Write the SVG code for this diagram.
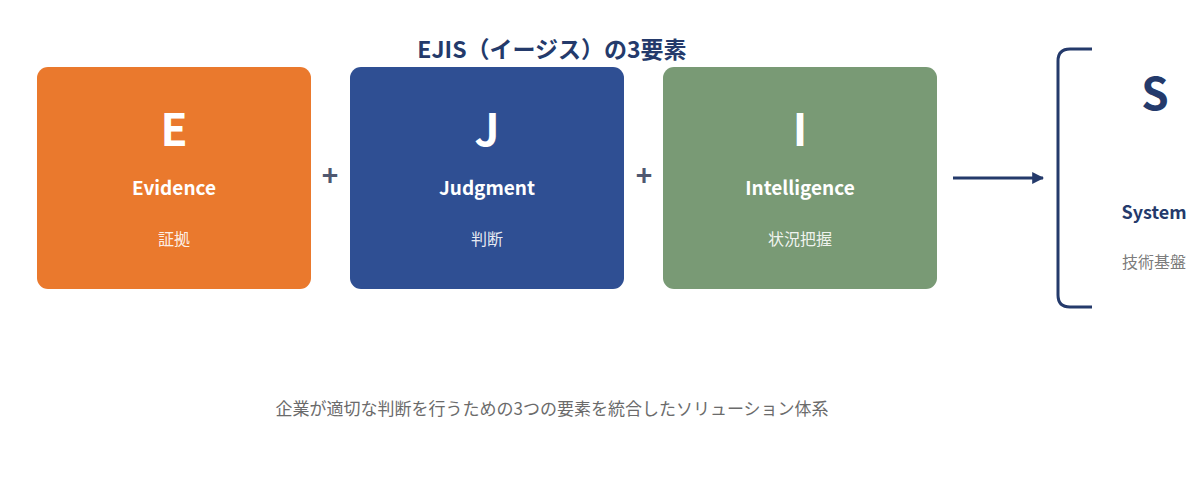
<svg xmlns="http://www.w3.org/2000/svg" width="1200" height="484" viewBox="0 0 1200 484">
<style>
.box{stroke:none}
.letter{font-family:"Noto Sans CJK JP","Noto Sans",sans-serif;font-weight:700;font-size:44px;fill:#fff;text-anchor:middle}
.name{font-family:"Noto Sans CJK JP","Noto Sans",sans-serif;font-weight:700;font-size:19px;fill:#fff;text-anchor:middle}
.jp{font-family:"Noto Sans CJK JP","Noto Sans",sans-serif;font-size:16px;fill:#fff;fill-opacity:0.9;text-anchor:middle}
.plus{font-family:"Noto Sans CJK JP","Noto Sans",sans-serif;font-weight:700;font-size:28px;fill:#4f5870;text-anchor:middle}
.title{font-family:"Noto Sans CJK JP","Noto Sans",sans-serif;font-weight:700;font-size:23px;fill:#243a6b;text-anchor:middle}
.sub{font-family:"Noto Sans CJK JP","Noto Sans",sans-serif;font-size:17px;fill:#6b6b6b;text-anchor:middle}
</style>
<defs>
<marker id="ah" viewBox="0 0 10 10" refX="9" refY="5" markerWidth="4" markerHeight="4" orient="auto">
<path d="M0,0 L10,5 L0,10 z" fill="#243a6b"/>
</marker>
</defs>
<rect width="1200" height="484" fill="#ffffff"/>
<text class="title" x="552" y="58">EJIS（イージス）の3要素</text>
<g id="node-E">
<rect class="box" x="37" y="67" width="274" height="222" rx="11" fill="#ea792d"/>
<text class="letter" x="174" y="146">E</text>
<text class="name" x="174" y="195">Evidence</text>
<text class="jp" x="174" y="245">証拠</text>
</g>
<g id="node-J">
<rect class="box" x="350" y="67" width="274" height="222" rx="11" fill="#2f4f93"/>
<text class="letter" x="487" y="146">J</text>
<text class="name" x="487" y="195">Judgment</text>
<text class="jp" x="487" y="245">判断</text>
</g>
<g id="node-I">
<rect class="box" x="663" y="67" width="274" height="222" rx="11" fill="#799a75"/>
<text class="letter" x="800" y="146">I</text>
<text class="name" x="800" y="195">Intelligence</text>
<text class="jp" x="800" y="245">状況把握</text>
</g>
<g id="node-S">
<path d="M1092,49 H1070 Q1058,49 1058,61 V295 Q1058,307 1070,307 H1092" fill="none" stroke="#243a6b" stroke-width="3"/>
<text class="letter" x="1155" y="110" style="fill:#243a6b">S</text>
<text class="name" x="1154" y="219" style="fill:#243a6b;font-size:18px">System</text>
<text class="jp" x="1154" y="268" style="fill:#6b6b6b">技術基盤</text>
</g>
<g id="connectors">
<text class="plus" x="330" y="186">+</text>
<text class="plus" x="644" y="186">+</text>
<line x1="953" y1="178" x2="1043" y2="178" stroke="#243a6b" stroke-width="3" marker-end="url(#ah)"/>
</g>
<text class="sub" x="552" y="415">企業が適切な判断を行うための3つの要素を統合したソリューション体系</text>
</svg>
